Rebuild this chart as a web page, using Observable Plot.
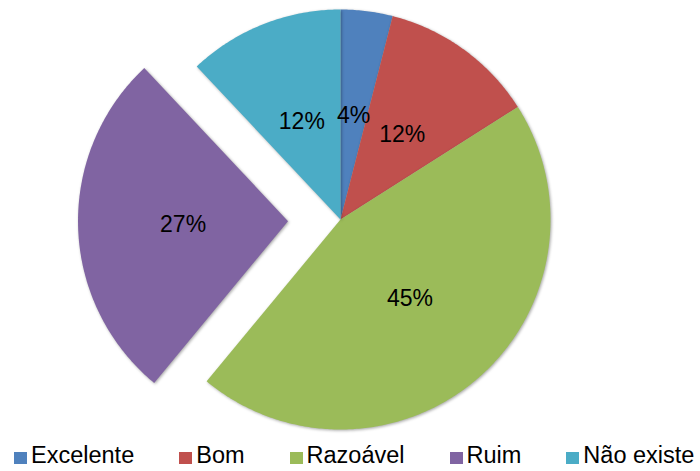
<!DOCTYPE html>
<html>
<head>
<meta charset="utf-8">
<script src="https://cdn.jsdelivr.net/npm/d3@7"></script>
<script src="https://cdn.jsdelivr.net/npm/@observablehq/plot@0.6"></script>
<style>
  html, body { margin: 0; padding: 0; background: #fff; }
  #chart { width: 700px; height: 471px; position: relative; font-family: "Liberation Sans", Arial, sans-serif; }
  .legend { display: flex; align-items: center; height: 31px; line-height: 31px; padding-left: 14px; gap: 45px; font-size: 23.5px; color: #000; white-space: nowrap; }
  .legend .item { display: flex; align-items: center; }
  .legend .sw { width: 13px; height: 12px; margin-right: 4px; display: inline-block; position: relative; top: 2.5px; }
  .slices path { filter: drop-shadow(1px 1px 1.5px rgba(0,0,0,0.35)); }
</style>
</head>
<body>
<div id="chart"></div>
<script>
const categories = ["Excelente", "Bom", "Razoável", "Ruim", "Não existe"];
const values = [4, 12, 45, 27, 12];
const valueLabels = ["4%", "12%", "45%", "27%", "12%"];
const colors = ["#4F81BD", "#C0504D", "#9BBB59", "#8064A2", "#4BACC6"];
const explodedCategories = ["Ruim"];

const W = 700, H = 440, CX = 340, CY = 219, R = 210;
const explodeDist = 0.25, labelRadius = 0.5;

const arcs = d3.pie().sort(null).value(d => d)(values);
const polys = [];
const labelPts = [];
arcs.forEach((a, i) => {
  const cat = categories[i];
  const mid = (a.startAngle + a.endAngle) / 2;
  const off = explodedCategories.includes(cat) ? explodeDist : 0;
  const ox = off * Math.sin(mid), oy = off * Math.cos(mid);
  polys.push({cat, x: ox, y: oy});
  const n = Math.max(2, Math.ceil((a.endAngle - a.startAngle) / 0.01));
  for (let k = 0; k <= n; k++) {
    const t = a.startAngle + (a.endAngle - a.startAngle) * k / n;
    polys.push({cat, x: ox + Math.sin(t), y: oy + Math.cos(t)});
  }
  polys.push({cat, x: ox, y: oy});
  labelPts.push({cat, label: valueLabels[i], x: ox + labelRadius * Math.sin(mid), y: oy + labelRadius * Math.cos(mid)});
});

const plot = Plot.plot({
  width: W,
  height: H,
  margin: 0,
  style: {fontFamily: '"Liberation Sans", Arial, sans-serif', background: "#fff", overflow: "visible"},
  x: {domain: [-CX / R, (W - CX) / R], range: [0, W], axis: null},
  y: {domain: [-(H - CY) / R, CY / R], range: [H, 0], axis: null},
  color: {domain: categories, range: colors},
  marks: [
    Plot.line(polys, {x: "x", y: "y", z: "cat", fill: "cat", stroke: null, curve: "linear", className: "slices"}),
    Plot.text(labelPts, {x: "x", y: "y", text: "label", fontSize: 23, fill: "#000"})
  ]
});

const root = document.getElementById("chart");
root.appendChild(plot);

const legend = document.createElement("div");
legend.className = "legend";
categories.forEach((c, i) => {
  const item = document.createElement("div");
  item.className = "item";
  const sw = document.createElement("span");
  sw.className = "sw";
  sw.style.background = colors[i];
  const tx = document.createElement("span");
  tx.textContent = c;
  item.appendChild(sw);
  item.appendChild(tx);
  legend.appendChild(item);
});
root.appendChild(legend);
</script>
</body>
</html>
